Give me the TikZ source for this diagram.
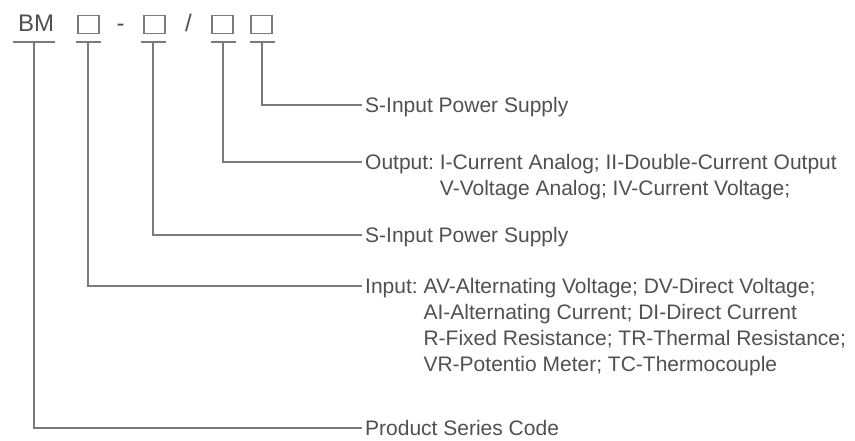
\documentclass[tikz,border=0pt]{standalone}
\usepackage{fontspec}
\setmainfont{Liberation Sans}
\definecolor{txt}{HTML}{505050}
\definecolor{ln}{HTML}{7A7A7A}
\begin{document}
\begin{tikzpicture}[x=1pt,y=-1pt,
  lbl/.style={anchor=base west, inner sep=0pt, text=txt, font=\fontsize{21}{26}\selectfont},
  code/.style={anchor=base west, inner sep=0pt, text=txt, font=\fontsize{24}{28}\selectfont},
  slot/.style={draw=ln, line width=1.4pt, minimum width=21pt, minimum height=18pt, inner sep=0pt},
  conn/.style={draw=ln, line width=1.6pt},
  bar/.style={draw=ln, line width=1.6pt}]
\useasboundingbox (0,0) rectangle (855,441);
% code line
\node[code] (bm) at (18,32) {BM};
\node[slot] (b1) at (88.5,24.5) {};
\node[code] (dash) at (116.5,32) {-};
\node[slot] (b2) at (154.5,24.5) {};
\node[code] (slash) at (185,32) {/};
\node[slot] (b3) at (222.5,24.5) {};
\node[slot] (b4) at (261.5,24.5) {};
% T-bar tops
\coordinate (t0) at (34,42);
\coordinate (t1) at (88,42);
\coordinate (t2) at (153,42);
\coordinate (t3) at (223,42);
\coordinate (t4) at (262,42);
\draw[bar] ([xshift=-21pt]t0) -- ([xshift=21pt]t0);
\foreach \t in {t1,t2,t3,t4}{\draw[bar] ([xshift=-12.5pt]\t) -- ([xshift=12.5pt]\t);}
% labels
\node[lbl] (s1) at (365,112.5) {S-Input Power Supply};
\node[lbl] (out) at (365,169.5) {\begin{tabular}[t]{@{}l@{\ }l@{}}Output: & I-Current Analog; II-Double-Current Output\\ & V-Voltage Analog; IV-Current Voltage;\end{tabular}};
\node[lbl] (s2) at (365,242.5) {S-Input Power Supply};
\node[lbl] (inp) at (365,293.5) {\begin{tabular}[t]{@{}l@{\ }l@{}}Input: & AV-Alternating Voltage; DV-Direct Voltage;\\ & AI-Alternating Current; DI-Direct Current\\ & R-Fixed Resistance; TR-Thermal Resistance;\\ & VR-Potentio Meter; TC-Thermocouple\end{tabular}};
\node[lbl] (prod) at (365,435.5) {Product Series Code};
% connector ends
\coordinate (e4) at (362,105);
\coordinate (e3) at (362,162);
\coordinate (e2) at (362,235);
\coordinate (e1) at (362,286);
\coordinate (e0) at (362,428);
\draw[conn] (t4) |- (e4);
\draw[conn] (t3) |- (e3);
\draw[conn] (t2) |- (e2);
\draw[conn] (t1) |- (e1);
\draw[conn] (t0) |- (e0);
\end{tikzpicture}
\end{document}
